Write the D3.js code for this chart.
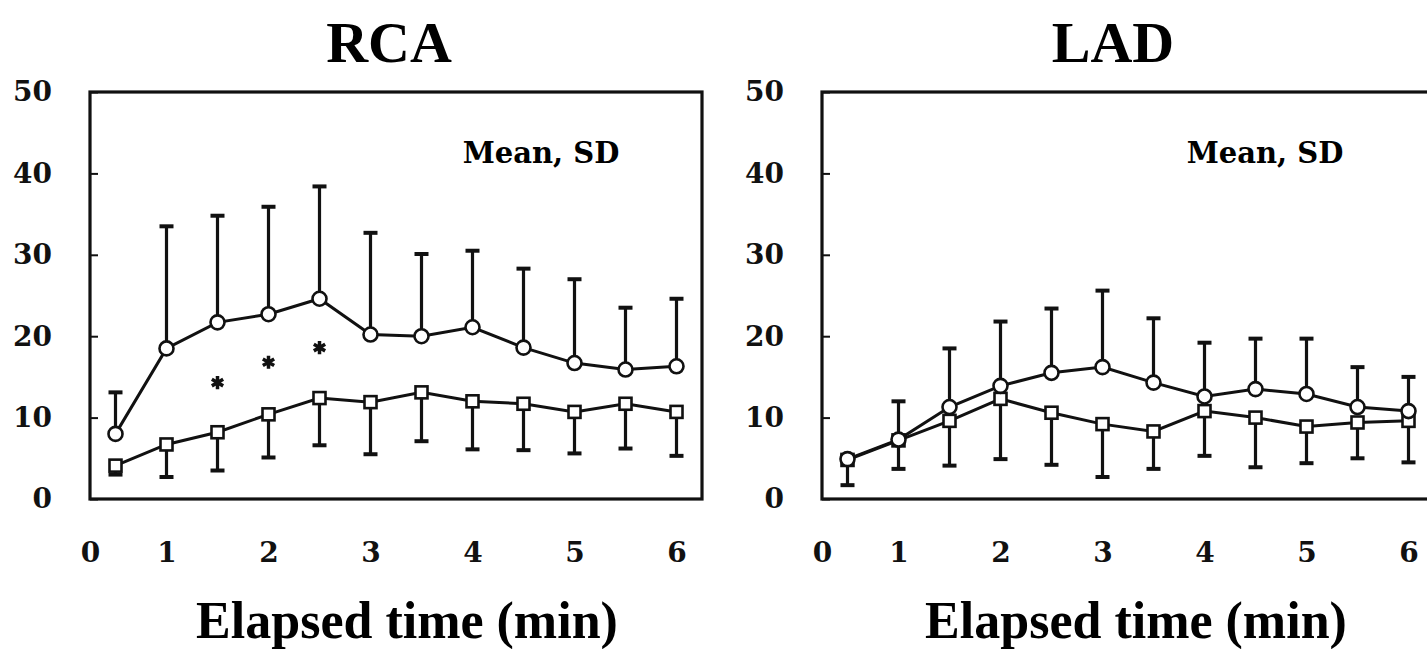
<!DOCTYPE html>
<html>
<head>
<meta charset="utf-8">
<script src="https://cdn.jsdelivr.net/npm/d3@7"></script>
<style>
  body { margin: 0; background: #fff; }
  .tick text { font-family: "DejaVu Serif", serif; font-weight: bold; fill: #111; }
</style>
</head>
<body>
<div id="chart"></div>
<script>
// elapsed time (min) of each measurement
const times = [0.5, 1, 1.5, 2, 2.5, 3, 3.5, 4, 4.5, 5, 5.5, 6];
const xTickLabels = ["0", "1", "2", "3", "4", "5", "6"];
const yTicks = [0, 10, 20, 30, 40, 50];

// RCA: circles (upper, SD drawn up) and squares (lower, SD drawn down)
const rcaCircleMean = [8.0, 18.5, 21.7, 22.7, 24.6, 20.2, 20.0, 21.1, 18.6, 16.7, 15.9, 16.3];
const rcaCircleSD   = [5.1, 15.0, 13.1, 13.2, 13.8, 12.5, 10.1, 9.4, 9.7, 10.3, 7.6, 8.3];
const rcaSquareMean = [4.1, 6.7, 8.2, 10.4, 12.4, 11.9, 13.1, 12.0, 11.7, 10.7, 11.7, 10.7];
const rcaSquareSD   = [1.1, 4.0, 4.7, 5.3, 5.8, 6.4, 6.0, 5.9, 5.7, 5.1, 5.5, 5.4];
const rcaStarTimes  = [1.5, 2, 2.5];
const rcaStarValues = [14.3, 16.8, 18.6];

// LAD
const ladCircleMean = [4.9, 7.3, 11.3, 13.9, 15.5, 16.2, 14.3, 12.6, 13.5, 12.9, 11.3, 10.8];
const ladCircleSD   = [0.4, 4.7, 7.2, 7.9, 7.9, 9.4, 7.9, 6.6, 6.2, 6.8, 4.9, 4.2];
const ladSquareMean = [4.8, 7.2, 9.6, 12.3, 10.6, 9.2, 8.3, 10.8, 10.0, 8.9, 9.4, 9.6];
const ladSquareSD   = [3.1, 3.5, 5.5, 7.4, 6.4, 6.5, 4.6, 5.5, 6.1, 4.5, 4.4, 5.1];

const W = 1427, H = 649;
const plotTop = 92, plotBottom = 499, plotW = 612;

const svg = d3.select("#chart").append("svg")
    .attr("width", W)
    .attr("height", H)
    .style("background", "#fff");

function drawPanel(p) {
    const x = d3.scaleLinear().domain([0.25, 6.25]).range([p.left, p.left + plotW]);
    const y = d3.scaleLinear().domain([0, 50]).range([plotBottom, plotTop]);
    const g = svg.append("g");

    // title
    g.append("text")
        .attr("x", p.left + p.titleDx)
        .attr("y", 62)
        .attr("text-anchor", "middle")
        .style("font-family", "'Liberation Serif', serif")
        .style("font-weight", "bold")
        .style("font-size", "58px")
        .text(p.title);

    // y axis: inward ticks, labels on the left
    g.append("g")
        .attr("transform", `translate(${p.left},0)`)
        .call(d3.axisLeft(y).tickValues(yTicks).tickSizeInner(-8).tickSizeOuter(0).tickPadding(38))
        .call(a => a.select(".domain").remove())
        .call(a => a.selectAll("line").attr("stroke", "#111").attr("stroke-width", 2))
        .call(a => a.selectAll("text").style("font-size", "28px"));

    // x axis: no tick marks, "0" sits at the corner
    const x0 = x.domain()[0];
    g.append("g")
        .attr("transform", `translate(0,${plotBottom})`)
        .call(d3.axisBottom(x)
            .tickValues([x0, 1, 2, 3, 4, 5, 6])
            .tickFormat((d, i) => xTickLabels[i])
            .tickSize(0)
            .tickPadding(43))
        .call(a => a.select(".domain").remove())
        .call(a => a.selectAll("text").style("font-size", "28px"));

    // frame
    g.append("rect")
        .attr("x", x.range()[0])
        .attr("y", plotTop)
        .attr("width", plotW)
        .attr("height", plotBottom - plotTop)
        .attr("fill", "none")
        .attr("stroke", "#111")
        .attr("stroke-width", 3.2);

    // "Mean, SD"
    g.append("text")
        .attr("x", p.left + p.noteDx)
        .attr("y", 163)
        .attr("text-anchor", "middle")
        .style("font-family", "'DejaVu Serif', serif")
        .style("font-weight", "bold")
        .style("font-size", "29px")
        .text("Mean, SD");

    // x title
    g.append("text")
        .attr("x", p.left + p.xTitleDx)
        .attr("y", 638)
        .attr("text-anchor", "middle")
        .style("font-family", "'Liberation Serif', serif")
        .style("font-weight", "bold")
        .style("font-size", "52px")
        .text("Elapsed time (min)");

    const capW = 7;
    // error bars: circles upward, squares downward
    const up = times.map((t, i) => ({t, m: p.circleMean[i], e: p.circleMean[i] + p.circleSD[i]}));
    const down = times.map((t, i) => ({t, m: p.squareMean[i], e: p.squareMean[i] - p.squareSD[i]}));
    const bars = g.append("g").attr("stroke", "#111").attr("stroke-width", 3.2);
    [up, down].forEach(set => {
        bars.selectAll(null).data(set).join("line")
            .attr("x1", d => x(d.t)).attr("x2", d => x(d.t))
            .attr("y1", d => y(d.m)).attr("y2", d => y(d.e));
        bars.selectAll(null).data(set).join("line")
            .attr("x1", d => x(d.t) - capW).attr("x2", d => x(d.t) + capW)
            .attr("y1", d => y(d.e)).attr("y2", d => y(d.e))
            .attr("stroke-width", 4);
    });

    // lines
    const line = d3.line().x(d => x(d.t)).y(d => y(d.m));
    [up, down].forEach(set => {
        g.append("path")
            .datum(set)
            .attr("d", line)
            .attr("fill", "none")
            .attr("stroke", "#111")
            .attr("stroke-width", 3);
    });

    // markers
    g.append("g").selectAll("rect").data(down).join("rect")
        .attr("x", d => x(d.t) - 6)
        .attr("y", d => y(d.m) - 6)
        .attr("width", 12)
        .attr("height", 12)
        .attr("fill", "#fff")
        .attr("stroke", "#111")
        .attr("stroke-width", 2.6);
    g.append("g").selectAll("circle").data(up).join("circle")
        .attr("cx", d => x(d.t))
        .attr("cy", d => y(d.m))
        .attr("r", 7)
        .attr("fill", "#fff")
        .attr("stroke", "#111")
        .attr("stroke-width", 2.6);

    // significance stars
    if (p.starTimes) {
        const star = d3.symbol().type(d3.symbolAsterisk).size(120);
        g.append("g").selectAll("path").data(p.starTimes).join("path")
            .attr("transform", (d, i) => `translate(${x(d)},${y(p.starValues[i])})`)
            .attr("d", star)
            .attr("fill", "none")
            .attr("stroke", "#111")
            .attr("stroke-width", 3.5);
    }
}

drawPanel({
    left: 90, title: "RCA", titleDx: 299, noteDx: 451, xTitleDx: 317,
    circleMean: rcaCircleMean, circleSD: rcaCircleSD,
    squareMean: rcaSquareMean, squareSD: rcaSquareSD,
    starTimes: rcaStarTimes, starValues: rcaStarValues
});
drawPanel({
    left: 822, title: "LAD", titleDx: 291, noteDx: 443, xTitleDx: 314,
    circleMean: ladCircleMean, circleSD: ladCircleSD,
    squareMean: ladSquareMean, squareSD: ladSquareSD
});
</script>
</body>
</html>
